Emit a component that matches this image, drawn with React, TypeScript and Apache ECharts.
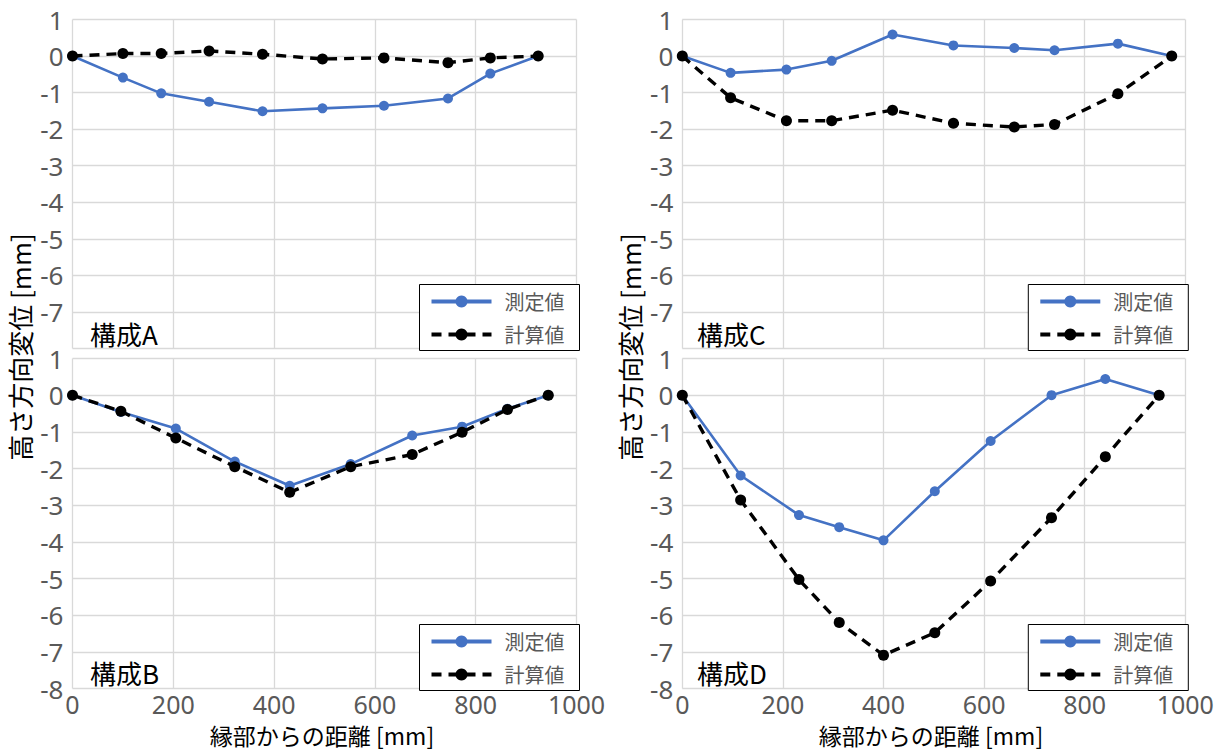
import React, { useEffect, useRef } from "react";
import * as echarts from "echarts";

const FONT = '"Noto Sans CJK JP", "Noto Sans", sans-serif';
const NUM_FONT = '"Noto Sans", "Open Sans", sans-serif';

const xTicks = [0, 200, 400, 600, 800, 1000];
const yTicks = [1, 0, -1, -2, -3, -4, -5, -6, -7, -8];

const seriesNames = ["測定値", "計算値"];
const panelLabels = ["構成A", "構成B", "構成C", "構成D"];
const xTitle = "縁部からの距離 [mm]";
const yTitle = "高さ方向変位 [mm]";

// 構成A
const xA = [0, 100, 176, 271, 377, 496, 618, 745, 829, 924];
const measA = [0, -0.59, -1.02, -1.25, -1.51, -1.43, -1.36, -1.16, -0.48, 0];
const calcA = [0, 0.07, 0.07, 0.14, 0.05, -0.08, -0.05, -0.18, -0.05, 0];

// 構成B
const xB = [0, 96, 205, 322, 431, 552, 674, 773, 863, 944];
const measB = [0, -0.46, -0.91, -1.81, -2.47, -1.88, -1.1, -0.86, -0.37, 0];
const calcB = [0, -0.44, -1.17, -1.95, -2.65, -1.95, -1.62, -1.01, -0.39, 0];

// 構成C
const xC = [0, 96, 207, 297, 418, 539, 660, 740, 866, 973];
const measC = [0, -0.46, -0.37, -0.13, 0.59, 0.29, 0.22, 0.16, 0.34, 0];
const calcC = [0, -1.14, -1.77, -1.77, -1.48, -1.84, -1.94, -1.87, -1.03, 0];

// 構成D
const xD = [0, 116, 232, 312, 400, 502, 613, 734, 841, 948];
const measD = [0, -2.19, -3.27, -3.6, -3.96, -2.62, -1.25, 0, 0.44, 0];
const calcD = [0, -2.86, -5.03, -6.2, -7.09, -6.48, -5.07, -3.34, -1.68, 0];

const panels = [
  { x: xA, meas: measA, calc: calcA, label: panelLabels[0] },
  { x: xB, meas: measB, calc: calcB, label: panelLabels[1] },
  { x: xC, meas: measC, calc: calcC, label: panelLabels[2] },
  { x: xD, meas: measD, calc: calcD, label: panelLabels[3] },
];

// layout: grid rects for A, B, C, D
const gridRects = [
  { left: 72.5, top: 19.5, width: 504, height: 329, bottom: false },
  { left: 72.5, top: 358.5, width: 504, height: 330, bottom: true },
  { left: 682.3, top: 19.5, width: 503, height: 329, bottom: false },
  { left: 682.3, top: 358.5, width: 503, height: 330, bottom: true },
];

const BLUE = "#4472C4";
const GRID_COLOR = "#d9d9d9";
const TICK_COLOR = "#595959";

export default function App() {
  const ref = useRef<HTMLDivElement>(null);

  useEffect(() => {
    if (!ref.current) return;
    const chart = echarts.init(ref.current, undefined, { renderer: "svg" });

    const grid = gridRects.map((g) => ({
      left: g.left,
      top: g.top,
      width: g.width,
      height: g.height,
      containLabel: false,
    }));

    const xAxis = gridRects.map((g, i) => ({
      type: "value",
      gridIndex: i,
      min: xTicks[0],
      max: xTicks[xTicks.length - 1],
      interval: xTicks[1] - xTicks[0],
      axisLine: { show: false },
      axisTick: { show: false },
      axisLabel: {
        show: g.bottom,
        color: TICK_COLOR,
        fontSize: 25,
        lineHeight: 25,
        fontFamily: NUM_FONT,
        margin: 3,
        formatter: (v: number) => String(v),
      },
      splitLine: { show: true, lineStyle: { color: GRID_COLOR, width: 1.3 } },
    }));

    const yAxis = gridRects.map((g, i) => ({
      type: "value",
      gridIndex: i,
      min: yTicks[yTicks.length - 1],
      max: yTicks[0],
      interval: 1,
      axisLine: { show: false },
      axisTick: { show: false },
      axisLabel: {
        color: TICK_COLOR,
        fontSize: 26,
        lineHeight: 26,
        fontFamily: NUM_FONT,
        margin: 9,
        showMinLabel: g.bottom,
        formatter: (v: number) => String(v),
      },
      splitLine: { show: true, lineStyle: { color: GRID_COLOR, width: 1.3 } },
    }));

    const series: any[] = [];
    panels.forEach((p, i) => {
      series.push({
        name: seriesNames[0],
        type: "line",
        xAxisIndex: i,
        yAxisIndex: i,
        data: p.x.map((x, k) => [x, p.meas[k]]),
        symbol: "circle",
        symbolSize: 10,
        lineStyle: { color: BLUE, width: 2.6 },
        itemStyle: { color: BLUE },
        z: 2,
      });
      series.push({
        name: seriesNames[1],
        type: "line",
        xAxisIndex: i,
        yAxisIndex: i,
        data: p.x.map((x, k) => [x, p.calc[k]]),
        symbol: "circle",
        symbolSize: 11,
        lineStyle: { color: "#000", width: 3.4, type: [10, 7] },
        itemStyle: { color: "#000" },
        z: 3,
      });
    });

    const legend = gridRects.map((g) => ({
      data: seriesNames,
      orient: "vertical",
      left: g.left + g.width - 157,
      top: g.top + g.height - 64,
      backgroundColor: "#fff",
      borderColor: "#000",
      borderWidth: 1,
      padding: [7, 15, 6, 10],
      itemWidth: 60,
      itemHeight: 15,
      itemGap: 13,
      selectedMode: false,
      lineStyle: { width: 4 },
      textStyle: {
        color: TICK_COLOR,
        fontSize: 20,
        fontFamily: FONT,
        padding: [0, 0, 0, 8],
      },
    }));

    const labelPos = [
      { x: 90, y: 333 },
      { x: 90, y: 672 },
      { x: 697, y: 333 },
      { x: 697, y: 672 },
    ];

    const graphic: any[] = [];
    panels.forEach((p, i) => {
      graphic.push({
        type: "text",
        x: labelPos[i].x,
        y: labelPos[i].y,
        z: 10,
        style: {
          text: p.label,
          font: `26px ${FONT}`,
          fill: "#000",
          textAlign: "left",
          textVerticalAlign: "middle",
        },
      });
    });
    [
      { x: 322, y: 735 },
      { x: 931, y: 735 },
    ].forEach((pos) =>
      graphic.push({
        type: "text",
        x: pos.x,
        y: pos.y,
        style: {
          text: xTitle,
          font: `23px ${FONT}`,
          lineHeight: 23,
          fill: "#000",
          textAlign: "center",
          textVerticalAlign: "middle",
        },
      })
    );
    [
      { x: 19, y: 347 },
      { x: 629, y: 347 },
    ].forEach((pos) =>
      graphic.push({
        type: "text",
        x: pos.x,
        y: pos.y,
        rotation: Math.PI / 2,
        style: {
          text: yTitle,
          font: `26px ${FONT}`,
          fill: "#000",
          textAlign: "center",
          textVerticalAlign: "middle",
        },
      })
    );

    chart.setOption({
      animation: false,
      backgroundColor: "#fff",
      textStyle: { fontFamily: FONT },
      grid,
      xAxis,
      yAxis,
      series,
      legend,
      graphic,
    });

    return () => chart.dispose();
  }, []);

  return (
    <div
      ref={ref}
      style={{ position: "fixed", left: 0, top: 0, width: 1222, height: 751 }}
    />
  );
}
